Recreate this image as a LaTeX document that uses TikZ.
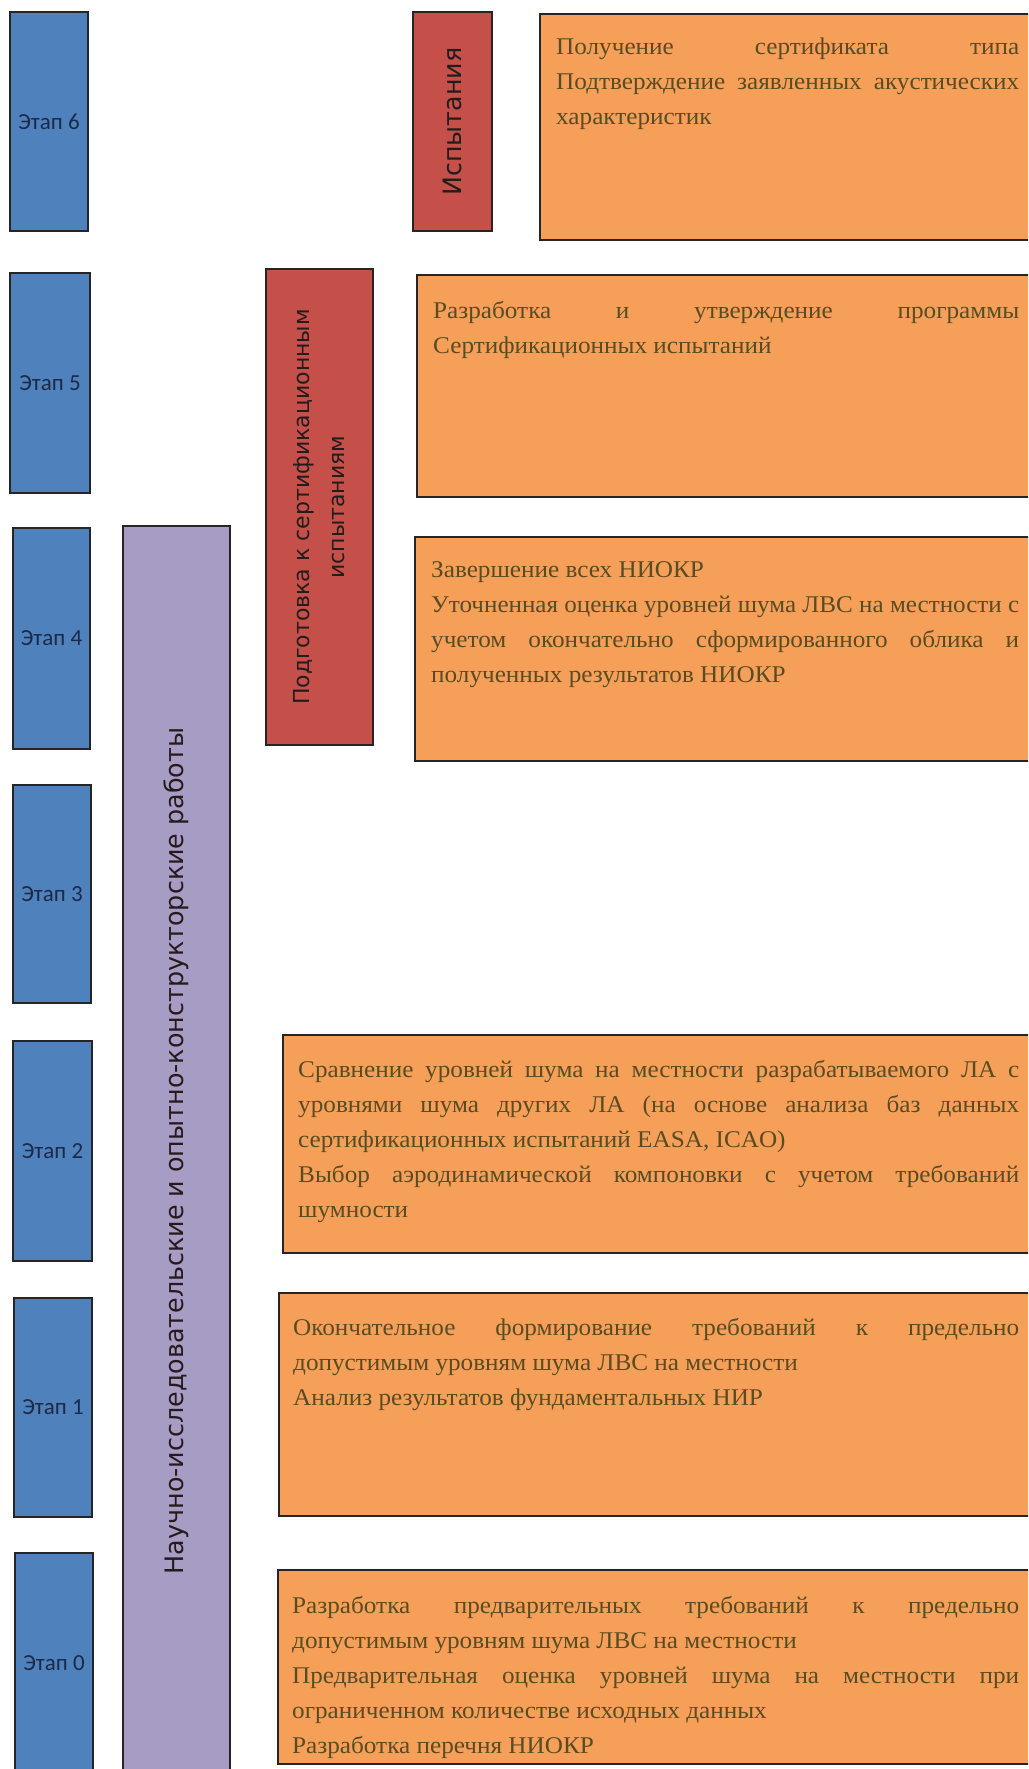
\documentclass[tikz,border=0pt]{standalone}
\usepackage{graphicx}
\usepackage{fontspec}
\setmainfont{Liberation Serif}
\newfontfamily\boxfont[FakeStretch=1.05]{Liberation Serif}
\newfontfamily\labfont{Carlito}
\newfontfamily\rotfont{DejaVu Sans}
\definecolor{stageblue}{RGB}{79,129,189}
\definecolor{testred}{RGB}{197,80,73}
\definecolor{rdpurple}{RGB}{167,156,196}
\definecolor{taskorange}{RGB}{246,159,88}
\definecolor{edgecol}{RGB}{38,36,36}
\definecolor{labtext}{RGB}{28,42,72}
\definecolor{otxt}{RGB}{88,76,36}
\definecolor{rottext}{RGB}{35,28,28}
\newsavebox\jlbox
\newcommand\jline[1]{\sbox\jlbox{#1}%
  \ifdim\wd\jlbox>\linewidth
    \resizebox{\linewidth}{\ht\jlbox}{\usebox\jlbox}%
  \else
    \makebox[\linewidth][s]{#1}%
  \fi\\}
\tikzset{
  stagebox/.style={draw=edgecol, line width=2pt, fill=stageblue, anchor=north west, inner sep=0pt,
    text=labtext, font=\labfont\fontsize{23}{27}\selectfont},
  redbox/.style={draw=edgecol, line width=2pt, fill=testred, anchor=north west, inner sep=0pt},
  purplebox/.style={draw=edgecol, line width=2pt, fill=rdpurple, anchor=north west, inner sep=0pt},
  orangebox/.style={draw=edgecol, line width=2pt, fill=taskorange, anchor=north west, inner sep=0pt},
  otext/.style={anchor=base west, inner sep=0pt, text=otxt, font=\boxfont\fontsize{24}{35}\selectfont},
  rottxt/.style={rotate=90, inner sep=0pt, text=rottext, align=center},
}
\begin{document}
\begin{tikzpicture}[x=1pt,y=-1pt]
\useasboundingbox (0,0) rectangle (1028,1769);
\clip (0,0) rectangle (1028,1769);
\fill[white] (0,0) rectangle (1028,1769);

% stage column
\node[stagebox, minimum width=78pt, minimum height=219pt] (s6) at (9,11) {Этап 6};
\node[stagebox, minimum width=80pt, minimum height=220pt] (s5) at (9,272) {Этап 5};
\node[stagebox, minimum width=77pt, minimum height=221pt] (s4) at (12,527) {Этап 4};
\node[stagebox, minimum width=78pt, minimum height=218pt] (s3) at (12,784) {Этап 3};
\node[stagebox, minimum width=79pt, minimum height=220pt] (s2) at (12,1040) {Этап 2};
\node[stagebox, minimum width=78pt, minimum height=219pt] (s1) at (13,1297) {Этап 1};
\node[stagebox, minimum width=78pt, minimum height=220pt] (s0) at (14,1552) {Этап 0};

% research bar
\node[purplebox, minimum width=107pt, minimum height=1250pt] (rd) at (122,525) {};
\node[rottxt, font=\rotfont\fontsize{25.4}{30}\selectfont] (rdl) at (rd.center)
  {Научно-исследовательские и опытно-конструкторские работы};

% red bars
\node[redbox, minimum width=79pt, minimum height=219pt] (ts) at (412,11) {};
\node[rottxt, font=\rotfont\fontsize{25.3}{30}\selectfont] (tsl) at (ts.center) {Испытания};
\node[redbox, minimum width=107pt, minimum height=476pt] (pr) at (265,268) {};
\node[rottxt, font=\rotfont\fontsize{22}{35}\selectfont] (prl) at (pr.center)
  {Подготовка к сертификационным\\испытаниям};

% orange task boxes
\node[orangebox, minimum width=520pt, minimum height=226pt] (o6) at (539,13) {};
\node[orangebox, minimum width=640pt, minimum height=222pt] (o5) at (416,274) {};
\node[orangebox, minimum width=640pt, minimum height=224pt] (o4) at (414,536) {};
\node[orangebox, minimum width=770pt, minimum height=218pt] (o2) at (282,1034) {};
\node[orangebox, minimum width=770pt, minimum height=223pt] (o1) at (278,1292) {};
\node[orangebox, minimum width=770pt, minimum height=194pt] (o0) at (277,1569) {};

\node[otext] (t6) at (556,55) {\parbox[t]{463pt}{%
\jline{Получение сертификата типа}
\jline{Подтверждение заявленных акустических}
характеристик}};

\node[otext] (t5) at (433,318) {\parbox[t]{586pt}{%
\jline{Разработка и утверждение программы}
Сертификационных испытаний}};

\node[otext] (t4) at (431,577) {\parbox[t]{588pt}{%
Завершение всех НИОКР\\
\jline{Уточненная оценка уровней шума ЛВС на местности с}
\jline{учетом окончательно сформированного облика и}
полученных результатов НИОКР}};

\node[otext] (t2) at (298,1077) {\parbox[t]{721pt}{%
\jline{Сравнение уровней шума на местности разрабатываемого ЛА с}
\jline{уровнями шума других ЛА (на основе анализа баз данных}
сертификационных испытаний EASA, ICAO)\\
\jline{Выбор аэродинамической компоновки с учетом требований}
шумности}};

\node[otext] (t1) at (293,1335) {\parbox[t]{726pt}{%
\jline{Окончательное формирование требований к предельно}
допустимым уровням шума ЛВС на местности\\
Анализ результатов фундаментальных НИР}};

\node[otext] (t0) at (292,1613) {\parbox[t]{727pt}{%
\jline{Разработка предварительных требований к предельно}
допустимым уровням шума ЛВС на местности\\
\jline{Предварительная оценка уровней шума на местности при}
ограниченном количестве исходных данных\\
Разработка перечня НИОКР}};
\end{tikzpicture}
\end{document}
